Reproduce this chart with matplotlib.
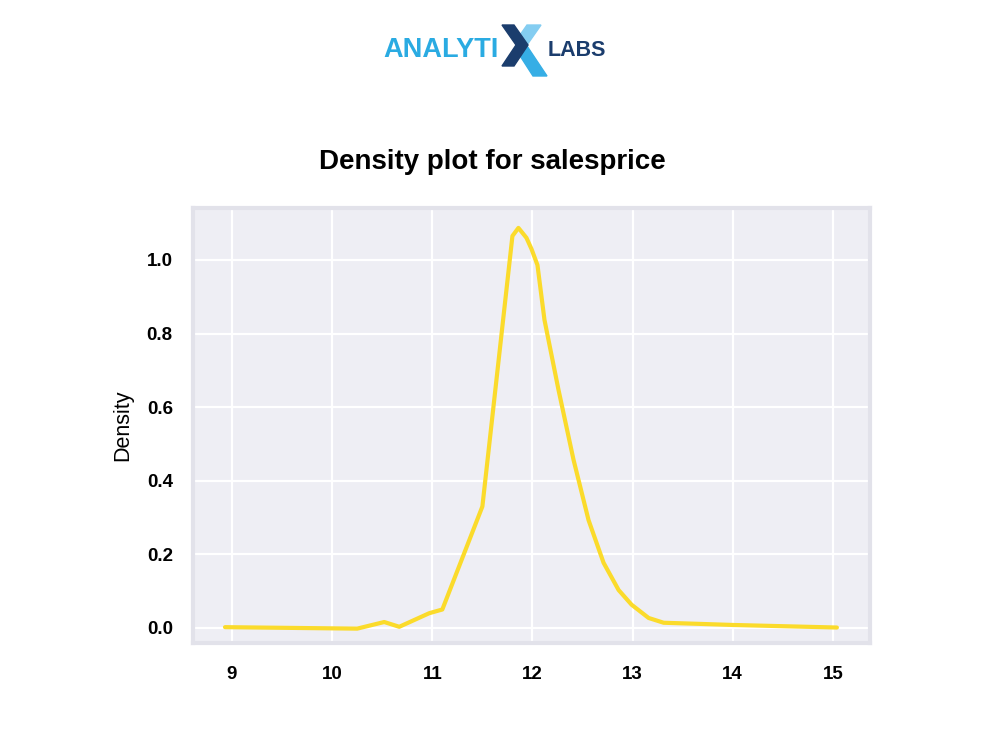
import numpy as np
import matplotlib.pyplot as plt
import seaborn as sns
from matplotlib.patches import Polygon

# curve values (log sale price vs density)
price = [8.93, 10.25, 10.52, 10.67, 10.97, 11.10, 11.50, 11.80, 11.86, 11.94,
         11.99, 12.05, 12.12, 12.26, 12.41, 12.56, 12.71, 12.86, 12.99, 13.16,
         13.31, 13.66, 14.00, 15.04]
density = [0.002, -0.002, 0.016, 0.003, 0.040, 0.050, 0.330, 1.065, 1.087, 1.060,
           1.030, 0.986, 0.837, 0.647, 0.457, 0.293, 0.177, 0.103, 0.063, 0.027,
           0.014, 0.011, 0.008, 0.001]
xticks = [9, 10, 11, 12, 13, 14, 15]
yticks = [0.0, 0.2, 0.4, 0.6, 0.8, 1.0]

sns.set_style('darkgrid')
plt.rcParams['font.family'] = ['Liberation Sans', 'DejaVu Sans']

W, H = 986, 733
fig = plt.figure(figsize=(W / 100, H / 100), dpi=100)
ax = fig.add_axes([0.1957, 0.1228, 0.6866, 0.5934])
ax.set_facecolor('#EEEEF4')
ax.plot(price, density, color='#FBDB2B', linewidth=3)
ax.set_xlim(8.61, 15.37)
ax.set_ylim(-0.041, 1.141)
ax.set_xticks(xticks)
ax.set_yticks(yticks)
ax.set_xticklabels([str(t) for t in xticks], fontsize=13.5, fontweight='bold', color='black')
ax.set_yticklabels([f'{t:.1f}' for t in yticks], fontsize=13.5, fontweight='bold', color='black')
ax.tick_params(axis='x', pad=13)
ax.tick_params(axis='y', pad=11)
ax.grid(color='white', linewidth=1.6)
for s in ax.spines.values():
    s.set_visible(True)
    s.set_color('#E2E2EA')
    s.set_linewidth(3)
ax.set_ylabel('Density', fontsize=15.5, labelpad=10, color='black')

fig.text(0.4995, 0.7795, 'Density plot for salesprice', ha='center', va='center',
         fontsize=20, fontweight='bold', color='black')

# logo
def px(pts):
    return [(x / W, 1 - y / H) for x, y in pts]

fig.add_artist(Polygon(px([(527, 25), (541, 25), (527, 45), (520, 35)]),
                       closed=True, color='#84CDF1', transform=fig.transFigure))
fig.add_artist(Polygon(px([(515, 48), (525, 43), (547, 76), (533, 76)]),
                       closed=True, color='#36AEE5', transform=fig.transFigure))
fig.add_artist(Polygon(px([(502, 25), (514, 25), (528, 45), (514, 66), (502, 66), (516, 45)]),
                       closed=True, color='#1B3D6D', transform=fig.transFigure))
fig.text(383 / W, 1 - 50 / H, 'ANALYTI', ha='left', va='center', fontsize=19.5,
         color='#2AABE2', fontweight='bold')
fig.text(548 / W, 1 - 50 / H, 'LABS', ha='left', va='center', fontsize=15.5,
         color='#1B3D6D', fontweight='bold')

fig.savefig('out.png', dpi=100, facecolor='white')
